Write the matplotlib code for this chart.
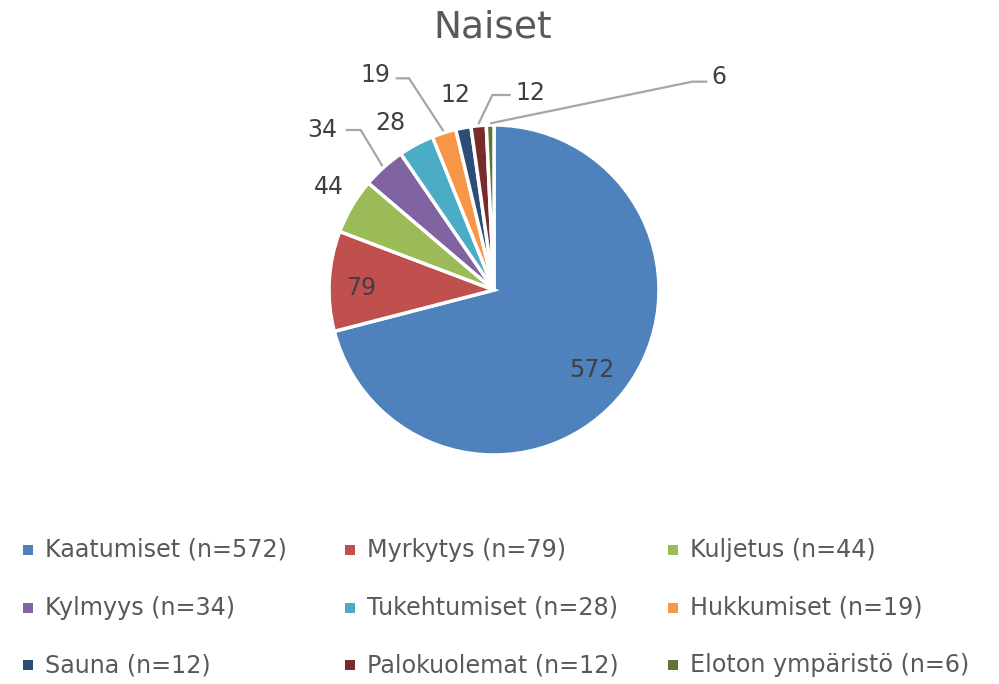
import numpy as np
import matplotlib
matplotlib.use('Agg')
from matplotlib import pyplot as plt
from matplotlib.patches import Rectangle

# data
categories = ['Kaatumiset', 'Myrkytys', 'Kuljetus', 'Kylmyys', 'Tukehtumiset',
              'Hukkumiset', 'Sauna', 'Palokuolemat', 'Eloton ympäristö']
counts = [572, 79, 44, 34, 28, 19, 12, 12, 6]
colors = ['#4F81BD', '#C0504D', '#9BBB59', '#8064A2', '#4BACC6',
          '#F79646', '#2C4D75', '#772C2A', '#5F7530']

W, H = 999, 684
fig = plt.figure(figsize=(W / 100, H / 100), dpi=100)
plt.rcParams['font.family'] = ['DejaVu Sans']

# pie centred at (494, 290) px
cx, cy, half = 494, 290, 200
ax = fig.add_axes([(cx - half) / W, (H - cy - half) / H, 2 * half / W, 2 * half / H])
wedges, _ = ax.pie(counts, colors=colors, startangle=90, counterclock=False,
                   radius=0.99,
                   wedgeprops=dict(edgecolor='white', linewidth=2.5))
ax.set_xlim(-1.2, 1.2)
ax.set_ylim(-1.2, 1.2)
ax.set_aspect('equal')
ax.axis('off')

total = float(sum(counts))
ends = np.cumsum(counts) / total * 360
mids = 90 - (ends - np.array(counts) / total * 180)   # standard angle of slice centres

lab_color = '#404040'
line_color = '#A6A6A6'

# label layout: (x, y) in pie units, optional elbow for leader line
label_pos = [
    ('in', 0.74, None),
    ('in', 0.80, None),
    ((-0.99, 0.62), None, None),
    ((-1.03, 0.96), (-0.80, 0.96), (-0.89, 0.96)),
    ((-0.62, 1.00), None, None),
    ((-0.71, 1.29), (-0.51, 1.27), (-0.59, 1.27)),
    ((-0.23, 1.17), None, None),
    ((0.22, 1.18), (-0.01, 1.17), (0.10, 1.17)),
    ((1.35, 1.28), (1.19, 1.25), (1.28, 1.25)),
]

for i, (pos, elbow, tend) in enumerate(label_pos):
    a = np.deg2rad(mids[i])
    if pos == 'in':
        r = elbow
        ax.text(r * np.cos(a), r * np.sin(a) - 0.03, str(counts[i]), ha='center',
                va='center', fontsize=17, color=lab_color)
        continue
    ax.text(pos[0], pos[1], str(counts[i]), ha='center', va='center',
            fontsize=17, color=lab_color)
    if elbow is not None:
        ex, ey = np.cos(a) * 1.0, np.sin(a) * 1.0
        ax.plot([tend[0], elbow[0], ex], [tend[1], elbow[1], ey],
                color=line_color, lw=1.6, clip_on=False, solid_capstyle='butt')

fig.text(493 / W, 1 - 28 / H, 'Naiset', ha='center', va='center',
         fontsize=27, color='#595959')

# legend, Excel style: 3 columns, row-major order
col_x = [28, 350, 673]
row_y = [550, 608, 665]
for i, (name, n, c) in enumerate(zip(categories, counts, colors)):
    x = col_x[i % 3]
    y = row_y[i // 3]
    fig.patches.append(Rectangle(((x - 5) / W, 1 - (y + 5) / H), 10 / W, 10 / H,
                                 transform=fig.transFigure, facecolor=c,
                                 edgecolor='none'))
    fig.text((x + 17) / W, 1 - y / H, '%s (n=%d)' % (name, n), ha='left',
             va='center', fontsize=17.2, color='#595959')

plt.savefig('out.png', dpi=100)
